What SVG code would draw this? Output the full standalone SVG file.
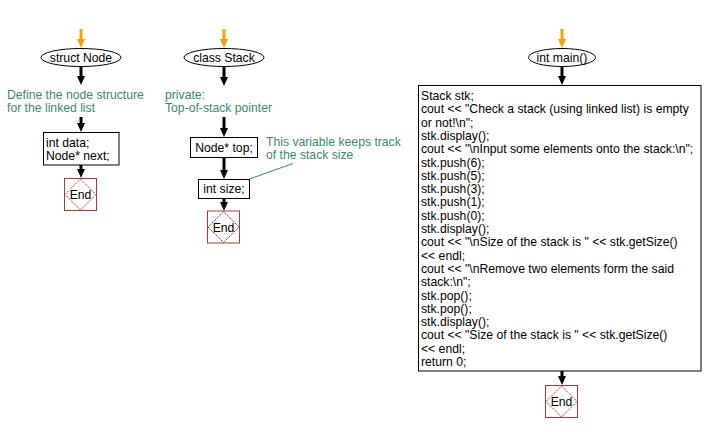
<svg xmlns="http://www.w3.org/2000/svg" width="706" height="432" viewBox="0 0 706 432">
<style>
text{font-family:"Liberation Sans",Arial,sans-serif;font-size:12.2px;fill:#000}
.c{text-anchor:middle}
.g{fill:#3B8A6B}
.box{fill:#fff;stroke:#000;stroke-width:1}
.term{fill:#fff;stroke:#000;stroke-width:1}
.endr{fill:#fff;stroke:#A33B3B;stroke-width:1}
.endd{fill:none;stroke:#B82828;stroke-width:1;stroke-dasharray:1.5,0.8}
.a{stroke:#000;stroke-width:3;fill:none}
.o{stroke:#F5A200;stroke-width:3;fill:none}
</style>
<defs>
<marker id="ah" markerUnits="userSpaceOnUse" markerWidth="9" markerHeight="10" refX="0" refY="4" orient="auto" viewBox="0 0 9 8">
<path d="M0,0 L9,4 L0,8 z" fill="#000"/>
</marker>
<marker id="oh" markerUnits="userSpaceOnUse" markerWidth="9" markerHeight="10" refX="0" refY="4" orient="auto" viewBox="0 0 9 8">
<path d="M0,0 L9,4 L0,8 z" fill="#F5A200"/>
</marker>
</defs>

<g id="connectors">
<line class="o" x1="81" y1="29" x2="81" y2="39" marker-end="url(#oh)"/>
<line class="a" x1="81" y1="66" x2="81" y2="76" marker-end="url(#ah)"/>
<line class="a" x1="81" y1="117" x2="81" y2="123" marker-end="url(#ah)"/>
<line class="a" x1="81" y1="165" x2="81" y2="169" marker-end="url(#ah)"/>

<line class="o" x1="224" y1="29" x2="224" y2="39" marker-end="url(#oh)"/>
<line class="a" x1="224" y1="66" x2="224" y2="77" marker-end="url(#ah)"/>
<line class="a" x1="224" y1="117" x2="224" y2="128" marker-end="url(#ah)"/>
<line class="a" x1="224" y1="158" x2="224" y2="170" marker-end="url(#ah)"/>
<line class="a" x1="224" y1="199" x2="224" y2="202" marker-end="url(#ah)"/>
<line x1="249.5" y1="179" x2="293" y2="163.5" stroke="#3B8A6B" stroke-width="1"/>

<line class="o" x1="562" y1="29" x2="562" y2="39" marker-end="url(#oh)"/>
<line class="a" x1="562" y1="66" x2="562" y2="76" marker-end="url(#ah)"/>
<line class="a" x1="562" y1="371" x2="562" y2="376" marker-end="url(#ah)"/>
</g>

<g id="struct_node">
<ellipse class="term" cx="81" cy="57.5" rx="40" ry="9"/>
<text class="c" x="81" y="62">struct Node</text>
</g>
<g id="node_comment">
<text class="g" x="7" y="99">Define the node structure</text>
<text class="g" x="7" y="112">for the linked list</text>
</g>
<g id="node_fields">
<rect class="box" x="43.5" y="132.5" width="75.5" height="32.5"/>
<text x="46" y="147">int data;</text>
<text x="46" y="160">Node* next;</text>
</g>
<g id="end1">
<rect class="endr" x="64.5" y="178.5" width="32" height="32"/>
<path class="endd" d="M80.5,179 L96,194.5 L80.5,210 L65,194.5 z"/>
<text class="c" x="80.5" y="199">End</text>
</g>

<g id="class_stack">
<ellipse class="term" cx="224" cy="57.5" rx="40" ry="9"/>
<text class="c" x="224" y="62">class Stack</text>
</g>
<g id="private_comment">
<text class="g" x="165" y="99">private:</text>
<text class="g" x="165" y="112">Top-of-stack pointer</text>
</g>
<g id="top_field">
<rect class="box" x="190.5" y="137.5" width="67" height="20"/>
<text class="c" x="224" y="152">Node* top;</text>
</g>
<g id="size_field">
<rect class="box" x="198.5" y="179.5" width="51" height="19"/>
<text class="c" x="224" y="193">int size;</text>
</g>
<g id="size_comment">
<text class="g" x="266" y="146">This variable keeps track</text>
<text class="g" x="266" y="159">of the stack size</text>
</g>
<g id="end2">
<rect class="endr" x="207.5" y="211" width="32" height="32"/>
<path class="endd" d="M223.5,211.5 L239,227 L223.5,242.5 L208,227 z"/>
<text class="c" x="223.5" y="231.5">End</text>
</g>

<g id="int_main">
<ellipse class="term" cx="562" cy="57.5" rx="33.5" ry="9"/>
<text class="c" x="562" y="62">int main()</text>
</g>
<g id="main_body">
<rect class="box" x="418.5" y="85.5" width="282.5" height="285.5"/>
<text x="421" y="100">Stack stk;</text>
<text x="421" y="113.3">cout &lt;&lt; "Check a stack (using linked list) is empty</text>
<text x="421" y="126.6">or not!\n";</text>
<text x="421" y="139.9">stk.display();</text>
<text x="421" y="153.2">cout &lt;&lt; "\nInput some elements onto the stack:\n";</text>
<text x="421" y="166.5">stk.push(6);</text>
<text x="421" y="179.8">stk.push(5);</text>
<text x="421" y="193.1">stk.push(3);</text>
<text x="421" y="206.4">stk.push(1);</text>
<text x="421" y="219.7">stk.push(0);</text>
<text x="421" y="233">stk.display();</text>
<text x="421" y="246.3">cout &lt;&lt; "\nSize of the stack is " &lt;&lt; stk.getSize()</text>
<text x="421" y="259.6">&lt;&lt; endl;</text>
<text x="421" y="272.9">cout &lt;&lt; "\nRemove two elements form the said</text>
<text x="421" y="286.2">stack:\n";</text>
<text x="421" y="299.5">stk.pop();</text>
<text x="421" y="312.8">stk.pop();</text>
<text x="421" y="326.1">stk.display();</text>
<text x="421" y="339.4">cout &lt;&lt; "Size of the stack is " &lt;&lt; stk.getSize()</text>
<text x="421" y="352.7">&lt;&lt; endl;</text>
<text x="421" y="366">return 0;</text>
</g>
<g id="end3">
<rect class="endr" x="545.5" y="385.5" width="32" height="32"/>
<path class="endd" d="M561.5,386 L577,401.5 L561.5,417 L546,401.5 z"/>
<text class="c" x="561.5" y="406">End</text>
</g>
</svg>
